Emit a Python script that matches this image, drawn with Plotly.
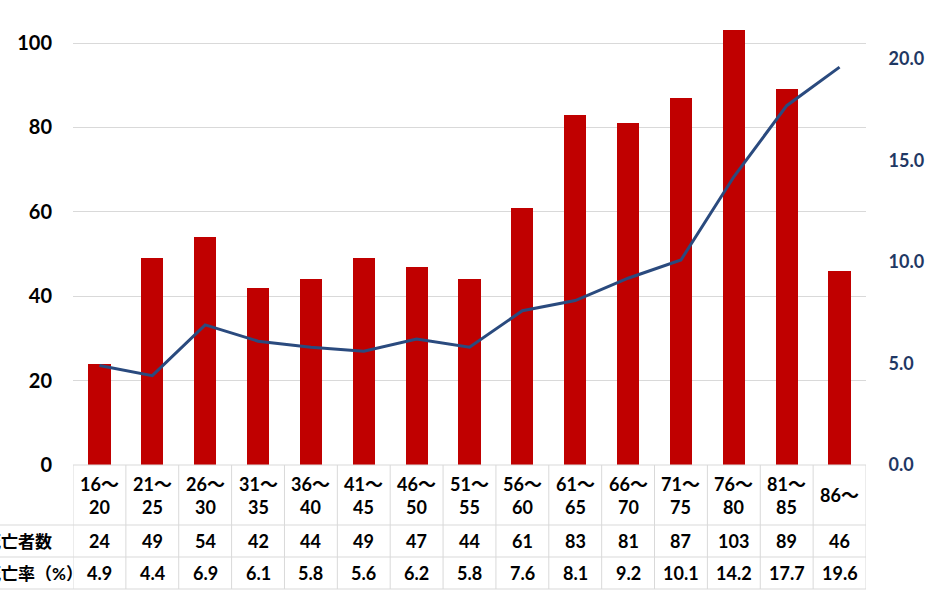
import plotly.graph_objects as go

# ---- data ----
age_groups = ["16～<br>20", "21～<br>25", "26～<br>30", "31～<br>35", "36～<br>40",
              "41～<br>45", "46～<br>50", "51～<br>55", "56～<br>60", "61～<br>65",
              "66～<br>70", "71～<br>75", "76～<br>80", "81～<br>85", "86～"]
deaths = [24, 49, 54, 42, 44, 49, 47, 44, 61, 83, 81, 87, 103, 89, 46]
death_rates = [4.9, 4.4, 6.9, 6.1, 5.8, 5.6, 6.2, 5.8, 7.6, 8.1, 9.2, 10.1, 14.2, 17.7, 19.6]
rate_labels = ["4.9", "4.4", "6.9", "6.1", "5.8", "5.6", "6.2", "5.8", "7.6", "8.1",
               "9.2", "10.1", "14.2", "17.7", "19.6"]
row_labels = ["死亡者数", "死亡率（%）"]
left_ticks = [0, 20, 40, 60, 80, 100]
right_ticks = [0, 5, 10, 15, 20]
right_ticktext = ["0.0", "5.0", "10.0", "15.0", "20.0"]

# ---- layout constants (pixels) ----
W, H = 938, 591
PL, PR = 73, 866          # plot area left / right
PT, PB = 0, 465           # plot area top / bottom
ROW1, ROW2, ROW3 = 525, 557, 589   # table row boundaries

BAR = "#c00000"
LINE = "#2a4a7e"
NAVY = "#1f3864"
GRID = "#d9d9d9"
FONT = "Lato, 'Noto Sans CJK JP', sans-serif"
FS = 18

def py(px):
    return 1 - px / H

def pxx(px):
    return px / W

idx = list(range(len(age_groups)))

fig = go.Figure()
fig.add_trace(go.Bar(x=idx, y=deaths, marker_color=BAR, width=0.42,
                     name="死亡者数", yaxis="y"))
fig.add_trace(go.Scatter(x=idx, y=death_rates, mode="lines",
                         line=dict(color=LINE, width=3), name="死亡率（%）",
                         yaxis="y2"))

shapes = []
# horizontal table lines
shapes.append(dict(type="line", xref="paper", yref="paper", x0=pxx(PL), x1=pxx(PR),
                   y0=py(PB), y1=py(PB), line=dict(color=GRID, width=1)))
for r in (ROW1, ROW2, ROW3):
    shapes.append(dict(type="line", xref="paper", yref="paper", x0=0, x1=pxx(PR),
                       y0=py(r), y1=py(r), line=dict(color=GRID, width=1)))
# vertical table lines at category boundaries
for i in range(len(age_groups) + 1):
    shapes.append(dict(type="line", xref="x", yref="paper", x0=i - 0.5, x1=i - 0.5,
                       y0=py(PB), y1=py(ROW3), line=dict(color=GRID, width=1)))

annotations = []
for i, cat in enumerate(age_groups):
    annotations.append(dict(x=i, y=py((PB + ROW1) / 2), xref="x", yref="paper",
                            text=cat, showarrow=False, xanchor="center", yanchor="middle",
                            font=dict(family=FONT, size=FS, color="#000000", weight="bold")))
    annotations.append(dict(x=i, y=py((ROW1 + ROW2) / 2), xref="x", yref="paper",
                            text=str(deaths[i]), showarrow=False, xanchor="center",
                            yanchor="middle",
                            font=dict(family=FONT, size=FS, color="#000000", weight="bold")))
    annotations.append(dict(x=i, y=py((ROW2 + ROW3) / 2), xref="x", yref="paper",
                            text=rate_labels[i], showarrow=False, xanchor="center",
                            yanchor="middle",
                            font=dict(family=FONT, size=FS, color="#000000", weight="bold")))
for lab, (a, b) in zip(row_labels, [(ROW1, ROW2), (ROW2, ROW3)]):
    annotations.append(dict(x=pxx(-18), y=py((a + b) / 2), xref="paper", yref="paper",
                            text=lab, showarrow=False, xanchor="left", yanchor="middle",
                            font=dict(family=FONT, size=17, color="#000000", weight="bold")))

left_max = 100 * (PB - PT) / (PB - 43)
right_max = 20 * (PB - PT) / (PB - 59)

fig.update_layout(
    width=W, height=H, template="none",
    margin=dict(l=0, r=0, t=0, b=0),
    plot_bgcolor="white", paper_bgcolor="white",
    showlegend=False, bargap=0,
    xaxis=dict(domain=[pxx(PL), pxx(PR)], range=[-0.5, len(age_groups) - 0.5],
               showticklabels=False, showgrid=False, zeroline=False, showline=False,
               ticks="", automargin=False, fixedrange=True),
    yaxis=dict(domain=[py(PB), py(PT)], range=[0, left_max], tickvals=left_ticks,
               showgrid=True, gridcolor=GRID, gridwidth=1, zeroline=False, showline=False,
               ticks="outside", ticklen=16, tickcolor="rgba(0,0,0,0)",
               tickfont=dict(family=FONT, size=20, color="#000000", weight="bold"),
               automargin=False),
    yaxis2=dict(overlaying="y", side="right", range=[0, right_max], tickvals=right_ticks,
                ticktext=right_ticktext, showgrid=False, zeroline=False, showline=False,
                ticks="outside", ticklen=18, tickcolor="rgba(0,0,0,0)",
                tickfont=dict(family=FONT, size=18, color=NAVY, weight="bold"),
                automargin=False),
    shapes=shapes, annotations=annotations,
)

fig.write_html("out.html")
